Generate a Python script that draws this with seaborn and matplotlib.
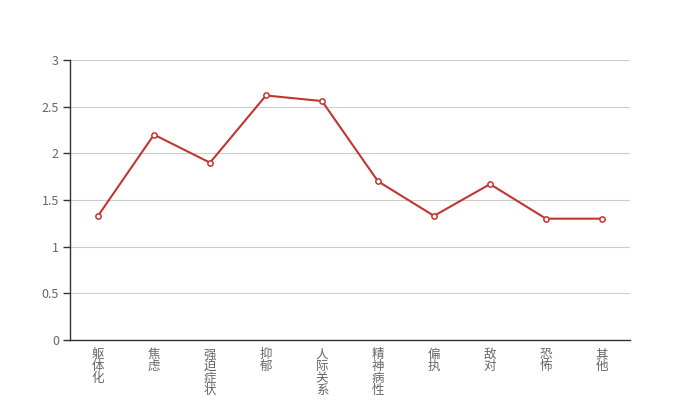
import numpy as np
import pandas as pd
import seaborn as sns
import matplotlib.pyplot as plt

# Data
categories = ['躯体化', '焦虑', '强迫症状', '抑郁', '人际关系', '精神病性', '偏执', '敌对', '恐怖', '其他']
scores = [1.33, 2.2, 1.9, 2.62, 2.56, 1.7, 1.33, 1.67, 1.3, 1.3]
y_ticks = [0, 0.5, 1, 1.5, 2, 2.5, 3]

sns.set_theme(style='white')
plt.rcParams['font.family'] = ['Noto Sans CJK SC', 'DejaVu Sans']

data = pd.DataFrame({'idx': np.arange(len(categories)), 'score': scores})

fig = plt.figure(figsize=(7, 4), dpi=100)
ax = fig.add_axes([0.1, 0.15, 0.8, 0.7])

line_color = '#c23531'
sns.lineplot(ax=ax, x='idx', y='score', data=data, color=line_color, lw=1.5,
             marker='o', markersize=3.8, markerfacecolor='white',
             markeredgecolor=line_color, markeredgewidth=1.1, zorder=3)

ax.set_xlim(-0.5, len(categories) - 0.5)
ax.set_ylim(0, 3)
ax.set_yticks(y_ticks)
ax.set_yticklabels([f'{v:g}' for v in y_ticks])
ax.grid(axis='y', color='#cccccc', lw=0.8)
ax.set_axisbelow(True)

# category labels at centres, tick marks at band boundaries
ax.set_xticks(np.arange(len(categories)))
ax.set_xticklabels(['\n'.join(c) for c in categories], linespacing=0.88, va='top')
ax.set_xticks(np.arange(len(categories) + 1) - 0.5, minor=True)
ax.tick_params(axis='x', which='major', length=0, pad=6, labelsize=9, labelcolor='#666666')
ax.tick_params(axis='x', which='minor', length=5, width=1, color='#333333', direction='out')
ax.tick_params(axis='y', length=5, width=1, color='#333333', direction='out', left=True,
               labelsize=9, labelcolor='#666666', pad=3)

ax.set_xlabel('')
ax.set_ylabel('')
for side in ['top', 'right']:
    ax.spines[side].set_visible(False)
for side in ['left', 'bottom']:
    ax.spines[side].set_color('#333333')
    ax.spines[side].set_linewidth(1)

plt.savefig('out.png', dpi=100)
